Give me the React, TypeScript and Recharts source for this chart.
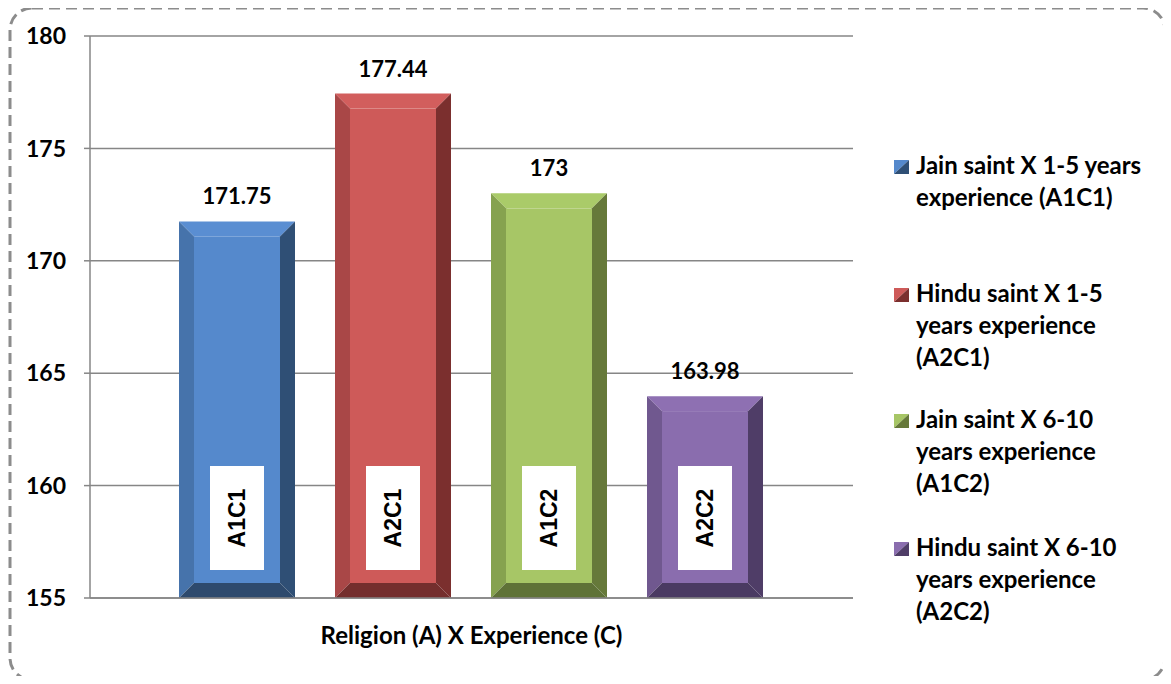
import React from 'react'
import { BarChart, Bar, XAxis, YAxis, CartesianGrid, LabelList, Legend } from 'recharts'

const categories = ['Religion (A) X Experience (C)']
const seriesKeys = ['A1C1', 'A2C1', 'A1C2', 'A2C2']
const seriesValues = [171.75, 177.44, 173, 163.98]
const yTicks = [155, 160, 165, 170, 175, 180]
const legendLines = [
  ['Jain saint X 1-5 years', 'experience (A1C1)'],
  ['Hindu saint X 1-5', 'years experience', '(A2C1)'],
  ['Jain saint X 6-10', 'years experience', '(A1C2)'],
  ['Hindu saint X 6-10', 'years experience', '(A2C2)'],
]
const legendTops = [149, 277, 403, 531]

// face, top, left, right, bottom
const palettes = [
  { face: '#5589cc', top: '#5a8ed2', left: '#4673ab', right: '#2f4f75', bottom: '#2e4a6d' },
  { face: '#ce5a59', top: '#d25e5d', left: '#a94747', right: '#7b2f2e', bottom: '#742e2d' },
  { face: '#a7c666', top: '#aacb69', left: '#86a24f', right: '#66793a', bottom: '#5f7237' },
  { face: '#8a6dae', top: '#8e70b2', left: '#70588f', right: '#4f3d67', bottom: '#4a3a62' },
]

const row: Record<string, string | number> = { name: categories[0] }
seriesKeys.forEach((k, i) => {
  row[k] = seriesValues[i]
})
const data = [row]

const FONT = 'Lato, "Open Sans", sans-serif'

function bevelShape(idx: number) {
  return (props: any) => {
    const { x, y, width: w, height: h } = props
    const p = palettes[idx]
    const b = Math.min(15, w / 2, h / 2)
    const bottom = y + h
    const boxW = 54
    const boxH = 104
    const boxX = x + w / 2 - boxW / 2
    const boxY = bottom - 28 - boxH
    return (
      <g>
        <rect x={x + b} y={y + b} width={w - 2 * b} height={h - 2 * b} fill={p.face} />
        <polygon points={`${x},${y} ${x + w},${y} ${x + w - b},${y + b} ${x + b},${y + b}`} fill={p.top} />
        <polygon points={`${x},${y} ${x + b},${y + b} ${x + b},${bottom - b} ${x},${bottom}`} fill={p.left} />
        <polygon points={`${x + w},${y} ${x + w},${bottom} ${x + w - b},${bottom - b} ${x + w - b},${y + b}`} fill={p.right} />
        <polygon points={`${x},${bottom} ${x + b},${bottom - b} ${x + w - b},${bottom - b} ${x + w},${bottom}`} fill={p.bottom} />
        <rect x={boxX} y={boxY} width={boxW} height={boxH} fill="#ffffff" />
        <text
          x={x + w / 2}
          y={boxY + boxH / 2}
          transform={`rotate(-90 ${x + w / 2} ${boxY + boxH / 2})`}
          textAnchor="middle"
          dominantBaseline="central"
          fontFamily='"Liberation Sans", Arial, sans-serif'
          fontWeight="bold"
          fontSize={23}
          fill="#000"
        >
          {seriesKeys[idx]}
        </text>
      </g>
    )
  }
}

function LegendMarker({ idx }: { idx: number }) {
  const p = palettes[idx]
  return (
    <svg width={15} height={14} style={{ position: 'absolute', left: -22, top: 11 }}>
      <polygon points="0,0 15,0 0,14" fill={p.face} />
      <polygon points="15,0 15,14 0,14" fill={p.right} />
    </svg>
  )
}

function renderLegend() {
  return (
    <div style={{ position: 'relative', width: 0, height: 0 }}>
      {legendLines.map((lines, i) => (
        <div
          key={seriesKeys[i]}
          style={{
            position: 'absolute',
            left: 22,
            top: legendTops[i] - 140,
            fontFamily: FONT,
            fontWeight: 'bold',
            fontSize: 24,
            lineHeight: '32px',
            color: '#000',
            whiteSpace: 'nowrap',
            textAlign: 'left',
          }}
        >
          <LegendMarker idx={i} />
          {lines.map((l) => (
            <div key={l}>{l}</div>
          ))}
        </div>
      ))}
    </div>
  )
}

export default function App() {
  return (
    <div style={{ position: 'relative', margin: -8, width: 1171, height: 684, background: '#fff' }}>
      <BarChart
        width={1171}
        height={684}
        data={data}
        margin={{ top: 36, right: 318, bottom: 36, left: 0 }}
        barGap={40}
        barCategoryGap={89}
      >
        <CartesianGrid vertical={false} stroke="#868686" strokeWidth={1.5} />
        <XAxis
          dataKey="name"
          tick={false}
          tickLine={false}
          axisLine={{ stroke: '#868686', strokeWidth: 1.5 }}
          height={50}
          label={{
            value: categories[0],
            position: 'insideBottom',
            offset: 4,
            style: { fontFamily: FONT, fontWeight: 'bold', fontSize: 24, fill: '#000' },
          }}
        />
        <YAxis
          width={90}
          domain={[155, 180]}
          ticks={yTicks}
          interval={0}
          tickSize={6}
          tickMargin={18}
          axisLine={{ stroke: '#868686', strokeWidth: 1.5 }}
          tickLine={{ stroke: '#868686', strokeWidth: 1.5 }}
          tick={{ fontFamily: FONT, fontWeight: 'bold', fontSize: 23, fill: '#000' }}
        />
        <Legend
          layout="vertical"
          align="right"
          verticalAlign="top"
          content={renderLegend}
          wrapperStyle={{ position: 'absolute', left: 894, top: 140, width: 0, height: 0 }}
        />
        {seriesKeys.map((k, i) => (
          <Bar key={k} dataKey={k} fill={palettes[i].face} shape={bevelShape(i)} isAnimationActive={false}>
            <LabelList
              dataKey={k}
              position="top"
              offset={17}
              style={{ fontFamily: FONT, fontWeight: 'bold', fontSize: 22, fill: '#000' }}
            />
          </Bar>
        ))}
      </BarChart>
      <svg width={1171} height={684} style={{ position: 'absolute', left: 0, top: 0, pointerEvents: 'none' }}>
        <rect x={10} y={8} width={1155} height={672} rx={22} ry={22} fill="none" stroke="#8c8c8c" strokeWidth={3} strokeDasharray="11 6" />
      </svg>
    </div>
  )
}
